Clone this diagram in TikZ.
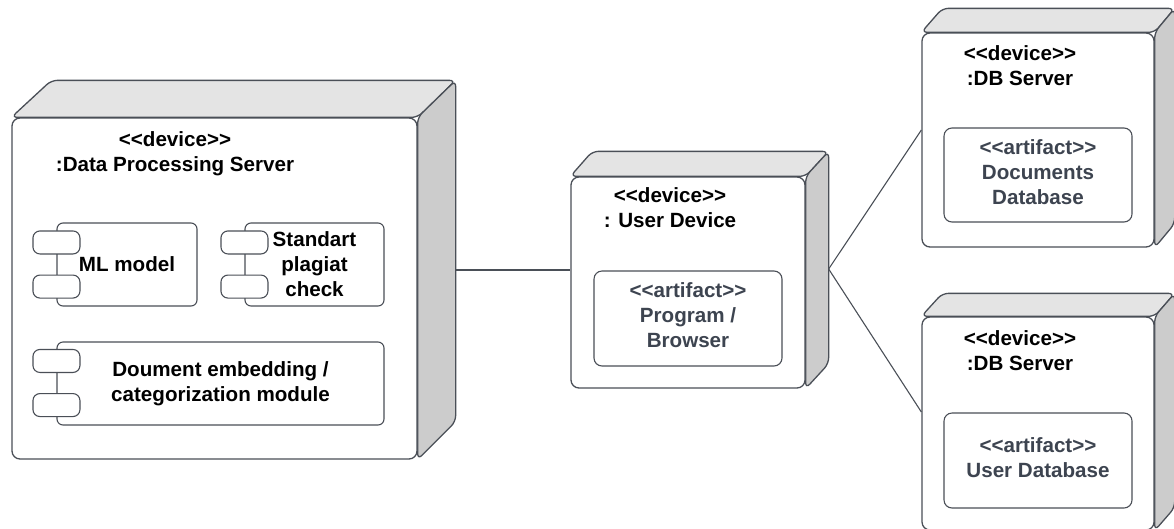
\documentclass[tikz,border=0pt]{standalone}
\usepackage{fontspec}
\setmainfont{Liberation Sans}
\usepackage{tikz}
\usetikzlibrary{calc,positioning,backgrounds}
\definecolor{edgegray}{HTML}{4A4F57}
\definecolor{topgray}{HTML}{E4E4E4}
\definecolor{sidegray}{HTML}{CCCCCC}
\definecolor{artgray}{HTML}{3D4450}
\newcommand{\stereo}[1]{<\kern0pt<#1>\kern0pt>}
\newcommand{\lblfont}{\fontsize{20.6}{25}\selectfont\bfseries}

\begin{document}
\begin{tikzpicture}[x=1pt,y=-1pt,
  front/.style={draw=edgegray,line width=1.3pt,fill=white,rounded corners=8pt,inner sep=0pt},
  topface/.style={draw=edgegray,line width=1.3pt,fill=topgray,rounded corners=6pt},
  sideface/.style={draw=edgegray,line width=1.3pt,fill=sidegray,rounded corners=6pt},
  devlabel/.style={align=center,font=\lblfont,inner sep=0pt},
  comp/.style={draw=edgegray,line width=1.1pt,fill=white,rounded corners=6pt,align=center,font=\lblfont,inner sep=0pt},
  tab/.style={draw=edgegray,line width=1.1pt,fill=white,rounded corners=7pt,minimum width=47pt,minimum height=23pt,inner sep=0pt},
  artifact/.style={draw=edgegray,line width=1.1pt,rounded corners=8pt,align=center,font=\lblfont,text=artgray,minimum width=188pt,minimum height=95pt,inner sep=0pt,text depth=6pt},
  link/.style={draw=edgegray,line width=1.1pt}]
\useasboundingbox (0,0) rectangle (1174,528);

% data processing server
\node[front,minimum width=405pt,minimum height=341pt] (dps) at (214.5,288.5) {};
\begin{scope}[on background layer]
\path[topface] (dps.north west) -- ++(40,-37) -- ($(dps.north east)+(38,-37)$) -- (dps.north east) -- cycle;
\path[sideface] (dps.north east) -- ++(38,-37) -- ($(dps.south east)+(38,-38)$) -- (dps.south east) -- cycle;
\end{scope}
\node[devlabel] (dpslbl) at (175,154) {\stereo{device}\\:Data Processing Server};
\node[comp,minimum width=140pt,minimum height=83pt] (ml) at (127,264.5) {ML model};
\node[tab] (mltaba) at ($(ml.north west)+(0,20)$) {};
\node[tab] (mltabb) at ($(ml.south west)+(0,-20)$) {};
\node[comp,minimum width=139pt,minimum height=83pt] (plag) at (314.5,264.5) {Standart\\plagiat\\check};
\node[tab] (plagtaba) at ($(plag.north west)+(0,20)$) {};
\node[tab] (plagtabb) at ($(plag.south west)+(0,-20)$) {};
\node[comp,minimum width=327pt,minimum height=83pt] (emb) at (220.5,383.5) {Doument embedding /\\categorization module};
\node[tab] (embtaba) at ($(emb.north west)+(0,19.5)$) {};
\node[tab] (embtabb) at ($(emb.south west)+(0,-20.5)$) {};

% user device
\node[front,minimum width=234pt,minimum height=211pt] (ud) at (688,282.5) {};
\begin{scope}[on background layer]
\path[topface] (ud.north west) -- ++(22,-25) -- ($(ud.north east)+(23,-25)$) -- (ud.north east) -- cycle;
\path[sideface] (ud.north east) -- ++(23,-25) -- ($(ud.south east)+(23,-25)$) -- (ud.south east) -- cycle;
\end{scope}
\node[devlabel] (udlbl) at (670,207.5) {\stereo{device}\\: User Device};
\node[artifact] (prog) at (688,318.5) {\stereo{artifact}\\Program /\\Browser};

% db servers
\node[front,minimum width=232pt,minimum height=214pt] (dba) at (1038,140) {};
\begin{scope}[on background layer]
\path[topface] (dba.north west) -- ++(21,-24) -- ($(dba.north east)+(20,-24)$) -- (dba.north east) -- cycle;
\path[sideface] (dba.north east) -- ++(20,-24) -- ($(dba.south east)+(20,-24)$) -- (dba.south east) -- cycle;
\end{scope}
\node[devlabel] (dbalbl) at (1020,65.5) {\stereo{device}\\:DB Server};
\node[artifact,minimum height=94pt] (docdb) at (1038,175) {\stereo{artifact}\\Documents\\Database};

\node[front,minimum width=232pt,minimum height=213pt] (dbb) at (1038,423.5) {};
\begin{scope}[on background layer]
\path[topface] (dbb.north west) -- ++(21,-23) -- ($(dbb.north east)+(20,-23)$) -- (dbb.north east) -- cycle;
\path[sideface] (dbb.north east) -- ++(20,-23) -- ($(dbb.south east)+(20,-23)$) -- (dbb.south east) -- cycle;
\end{scope}
\node[devlabel] (dbblbl) at (1020,351) {\stereo{device}\\:DB Server};
\node[artifact] (userdb) at (1038,460.5) {\stereo{artifact}\\User Database};

% links
\coordinate (dpsport) at ($(dps.east)+(38,-18.5)$);
\coordinate (udport) at ($(ud.east)+(23,-13.5)$);
\draw[link] (dpsport) -- (dpsport -| ud.west);
\draw[link] (udport) -- ($(dba.west)+(0,-10)$);
\draw[link] (udport) -- ($(dbb.west)+(0,-11.5)$);
\end{tikzpicture}
\end{document}
